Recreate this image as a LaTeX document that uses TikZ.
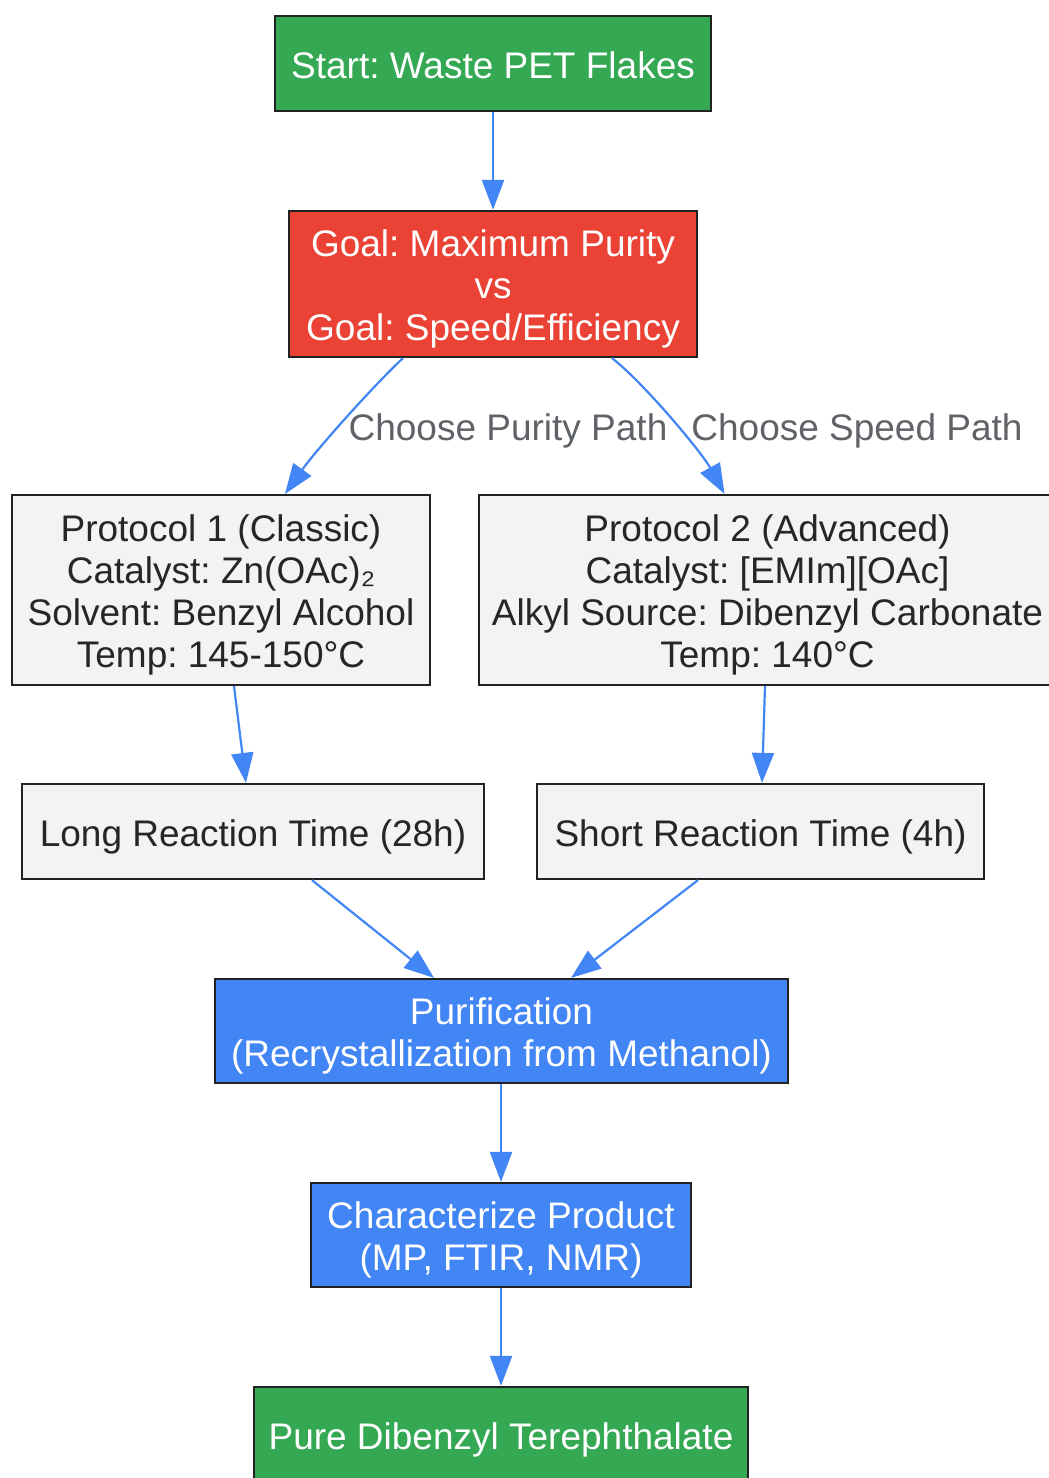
\documentclass[tikz,border=0pt]{standalone}
\usepackage{fontspec}
\setmainfont{Liberation Sans}
\usetikzlibrary{arrows.meta,calc}
\definecolor{gGreen}{HTML}{34A853}
\definecolor{gRed}{HTML}{EA4335}
\definecolor{gBlue}{HTML}{4285F4}
\definecolor{gGray}{HTML}{F1F3F4}
\definecolor{edgeBlue}{HTML}{4285F4}
\definecolor{lblGray}{HTML}{5F6368}
\definecolor{borderDark}{HTML}{222222}
\frenchspacing
\begin{document}
\begin{tikzpicture}[x=1pt,y=-1pt,
  box/.style={draw=borderDark,line width=2.2pt,rectangle,align=center,inner sep=0pt,
    font=\fontsize{37}{42}\selectfont\frenchspacing,text depth=6.2pt},
  one/.style={text height=35.8pt},
  two/.style={text height=77.8pt},
  three/.style={text height=119.8pt},
  four/.style={text height=161.8pt},
  greenbox/.style={box,fill=gGreen,text=white},
  redbox/.style={box,fill=gRed,text=white},
  bluebox/.style={box,fill=gBlue,text=white},
  graybox/.style={box,fill=gGray,text=black!85},
  flow/.style={draw=edgeBlue,line width=2.2pt,-{Triangle[length=30pt,width=22pt]}},
  lbl/.style={text=lblGray,font=\fontsize{37}{42}\selectfont\frenchspacing,inner sep=0pt,
    text height=35.8pt,text depth=6.2pt}
]
\useasboundingbox (0,0) rectangle (1049,1478);
\fill[white] (0,0) rectangle (1049,1478);

\node[greenbox,one,minimum width=436pt,minimum height=95pt] (start) at (493,63.5) {Start: Waste PET Flakes};
\node[redbox,three,minimum width=408pt,minimum height=146pt] (goal) at (493,284) {Goal: Maximum Purity\\vs\\Goal: Speed/Efficiency};
\node[graybox,four,minimum width=418pt,minimum height=190pt] (p1) at (221,590) {Protocol 1 (Classic)\\Catalyst: Zn(OAc)₂\\Solvent: Benzyl Alcohol\\Temp: 145-150°C};
\node[graybox,four,minimum width=577pt,minimum height=190pt] (p2) at (767.5,590) {Protocol 2 (Advanced)\\Catalyst: [EMIm][OAc]\\Alkyl Source: Dibenzyl Carbonate\\Temp: 140°C};
\node[graybox,one,minimum width=462pt,minimum height=95pt] (long) at (253,831.5) {Long Reaction Time (28h)};
\node[graybox,one,minimum width=447pt,minimum height=95pt] (short) at (760.5,831.5) {Short Reaction Time (4h)};
\node[bluebox,two,minimum width=573pt,minimum height=104pt] (purif) at (501.5,1031) {Purification\\(Recrystallization from Methanol)};
\node[bluebox,two,minimum width=380pt,minimum height=104pt] (char) at (501,1235) {Characterize Product\\(MP, FTIR, NMR)};
\node[greenbox,one,minimum width=494pt,minimum height=95pt] (pure) at (501,1434.5) {Pure Dibenzyl Terephthalate};

\draw[flow] (start.south) -- (goal.north);
\draw[flow] ($(goal.south)+(-90,0)$) .. controls ($(goal.south)+(-118,26)$) and ($(p1.north)+(96,-45)$) .. ($(p1.north)+(64,0)$);
\draw[flow] ($(goal.south)+(119,0)$) .. controls ($(goal.south)+(150,24)$) and ($(p2.north)+(-66,-42)$) .. ($(p2.north)+(-43,0)$);
\node[lbl] (lblpurity) at (508,426) {Choose Purity Path};
\node[lbl] (lblspeed) at (857,426) {Choose Speed Path};
\draw[flow] ($(p1.south)+(13,0)$) -- ($(long.north)+(-7,0)$);
\draw[flow] ($(p2.south)+(-2.5,0)$) -- ($(short.north)+(1.5,0)$);
\draw[flow] ($(long.south)+(59,0)$) -- ($(purif.north)+(-67.5,0)$);
\draw[flow] ($(short.south)+(-62.5,0)$) -- ($(purif.north)+(69.5,0)$);
\draw[flow] (char.north |- purif.south) -- (char.north);
\draw[flow] (char.south) -- (pure.north);
\end{tikzpicture}
\end{document}
